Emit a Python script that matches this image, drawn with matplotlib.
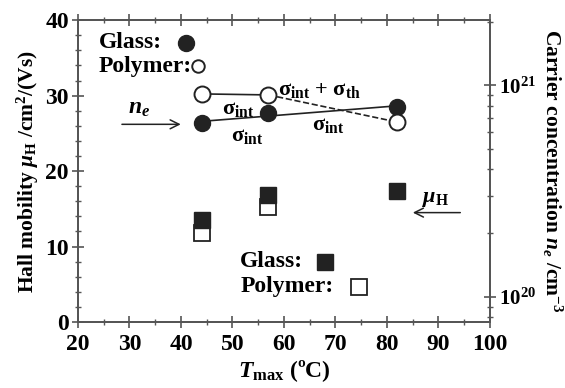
import matplotlib
matplotlib.use('Agg')
import matplotlib.pyplot as plt
import numpy as np
from matplotlib.ticker import MultipleLocator, LogLocator, NullFormatter

params = {'font.family': 'Liberation Serif',
          'font.weight': 'bold',
          'font.size': 16,
          'mathtext.fontset': 'custom',
          'mathtext.rm': 'Liberation Serif:weight=bold',
          'mathtext.it': 'Liberation Serif:style=italic:weight=bold',
          'mathtext.bf': 'Liberation Serif:weight=bold',
          'mathtext.default': 'bf',
          'axes.linewidth': 1.3,
          'axes.edgecolor': '#555555',
          }
plt.rcParams.update(params)

# Hall mobility (cm2/Vs) vs Tmax
t_mu_glass = [44, 57, 82]
mu_glass = [13.5, 16.8, 17.3]
t_mu_poly = [44, 57]
mu_poly = [11.8, 15.3]

# carrier concentration (cm-3) vs Tmax
t_ne = [44, 57, 82]
ne_glass = [6.6e20, 7.4e20, 7.9e20]
ne_poly = [9.1e20, 9.0e20, 6.7e20]

xticks = [20, 30, 40, 50, 60, 70, 80, 90, 100]
yticks = [0, 10, 20, 30, 40]

fig = plt.figure(figsize=(5.65, 3.88), dpi=100)
ax = fig.add_axes([0.138, 0.170, 0.729, 0.778])
ax2 = ax.twinx()

ax.set_xlim(20, 100)
ax.set_ylim(0, 40)
ax.set_xticks(xticks, [str(v) for v in xticks], fontweight='bold', fontsize=17)
ax.set_yticks(yticks, [str(v) for v in yticks], fontweight='bold', fontsize=17)
ax.xaxis.set_minor_locator(MultipleLocator(5))
ax.yaxis.set_minor_locator(MultipleLocator(2))
ax.tick_params(axis='both', which='major', direction='inout', length=9, width=1.2, color='#555555', top=True, pad=2)
ax.tick_params(axis='both', which='minor', direction='inout', length=5, width=1.0, color='#555555', top=True)
ax.tick_params(axis='x', which='major', pad=4)

ax.plot(t_mu_poly, mu_poly, 's', ms=11.5, mfc='white', mec='#222222', mew=1.3)
ax.plot(t_mu_glass, mu_glass, 's', ms=11.5, color='#222222', zorder=4)

ax.set_xlabel(r'$\mathit{T}_\mathbf{max}$ (ºC)', fontsize=17, fontweight='bold', labelpad=2)
ax.set_ylabel(r'Hall mobility $\mathit{μ}_\mathbf{H}$ /cm$^\mathbf{2}$/(Vs)', fontsize=15.5, fontweight='bold', labelpad=3)

ax2.set_yscale('log')
ax2.set_ylim(7.6e19, 2.03e21)
ax2.yaxis.set_major_locator(LogLocator(base=10))
ax2.yaxis.set_minor_locator(LogLocator(base=10, subs=np.arange(2, 10)))
ax2.yaxis.set_minor_formatter(NullFormatter())
ax2.tick_params(axis='y', which='major', direction='inout', length=9, width=1.2, color='#555555', labelsize=15, pad=2)
ax2.tick_params(axis='y', which='minor', direction='inout', length=5, width=1.0, color='#555555')
ax2.set_ylabel(r'Carrier concentration $\mathit{n}_\mathit{e}$ /cm$^\mathbf{-3}$', fontsize=15.5,
               fontweight='bold', rotation=270, labelpad=20)

# ne lines
fit = np.polyfit(t_ne, np.log10(ne_glass), 1)
tt = np.array([t_ne[0], t_ne[-1]])
ax2.plot(tt, 10 ** np.polyval(fit, tt), '-', color='#222222', lw=1.2)
ax2.plot(t_ne[:2], ne_poly[:2], '-', color='#222222', lw=1.2)
ax2.plot(t_ne[1:], ne_poly[1:], '--', color='#222222', lw=1.2)
ax2.plot(t_ne, ne_glass, 'o', ms=11.5, color='#222222', zorder=5)
ax2.plot(t_ne, ne_poly, 'o', ms=11.5, mfc='white', mec='#222222', mew=1.4, zorder=5)

# legends as text
ax.text(24, 37, 'Glass:', fontsize=17, fontweight='bold', va='center')
ax.plot([41], [37], 'o', ms=11.5, color='#222222', clip_on=False)
ax.text(24, 33.9, 'Polymer:', fontsize=17, fontweight='bold', va='center')
ax.plot([43.3], [33.9], 'o', ms=9, mfc='white', mec='#222222', mew=1.4)

ax.text(51.5, 8, 'Glass:', fontsize=17, fontweight='bold', va='center')
ax.plot([68], [8], 's', ms=11.5, color='#222222')
ax.text(51.5, 4.7, 'Polymer:', fontsize=17, fontweight='bold', va='center')
ax.plot([74.5], [4.7], 's', ms=11.5, mfc='white', mec='#222222', mew=1.3)

# sigma labels
sig = r'$\mathbf{σ}_\mathbf{int}$'
ax.text(48, 28.2, sig, fontsize=16, ha='left', va='center')
ax.text(49.8, 24.6, sig, fontsize=16, ha='left', va='center')
ax.text(58.8, 30.8, r'$\mathbf{σ}_\mathbf{int}$ + $\mathbf{σ}_\mathbf{th}$', fontsize=16, ha='left', va='center')
ax.text(65.5, 26.1, sig, fontsize=16, ha='left', va='center')

# arrows
ax.annotate('', xy=(40.5, 26.2), xytext=(28, 26.2),
            arrowprops=dict(arrowstyle='->', color='#222222', lw=1.1))
ax.text(31.8, 28.3, r'$\mathit{n_e}$', fontsize=17, ha='center', va='center')
ax.annotate('', xy=(84.5, 14.5), xytext=(94.8, 14.5),
            arrowprops=dict(arrowstyle='->', color='#222222', lw=1.1))
ax.text(89.5, 16.3, r'$\mathit{μ}_\mathbf{H}$', fontsize=16, ha='center', va='center')

fig.savefig('out.png', dpi=100)
